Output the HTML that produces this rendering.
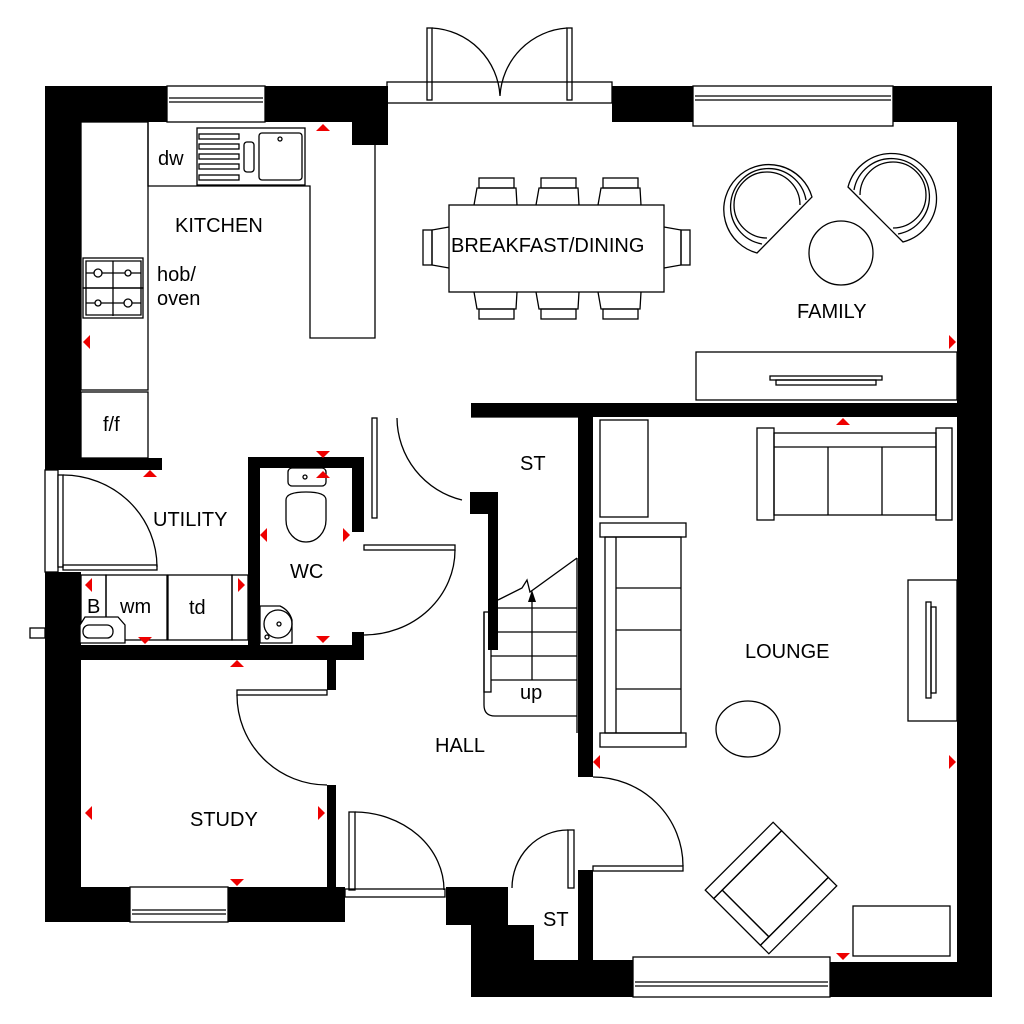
<!DOCTYPE html>
<html><head><meta charset="utf-8"><style>
html,body{margin:0;padding:0;background:#fff;}
svg{display:block}
text{font-family:"Liberation Sans",sans-serif;fill:#000;}
</style></head><body>
<svg width="1024" height="1024" viewBox="0 0 1024 1024" xmlns="http://www.w3.org/2000/svg">
<rect width="1024" height="1024" fill="#fff"/>
<g fill="#000">
<rect x="45" y="86" width="36" height="384"/>
<rect x="45" y="86" width="122" height="36"/>
<rect x="265" y="86" width="123" height="36"/>
<rect x="352" y="86" width="36" height="59"/>
<rect x="612" y="86" width="81" height="36"/>
<rect x="893" y="86" width="99" height="36"/>
<rect x="957" y="86" width="35" height="911"/>
<rect x="81" y="458" width="81" height="12"/>
<rect x="45" y="572" width="36" height="350"/>
<rect x="45" y="887" width="85" height="35"/>
<rect x="228" y="887" width="117" height="35"/>
<rect x="446" y="887" width="60" height="38"/>
<rect x="471" y="925" width="63" height="72"/>
<rect x="506" y="887" width="2" height="38"/>
<rect x="534" y="960" width="99" height="37"/>
<rect x="578" y="870" width="15" height="90"/>
<rect x="830" y="962" width="162" height="35"/>
<rect x="471" y="403" width="486" height="14"/>
<rect x="578" y="417" width="15" height="360"/>
<rect x="248" y="457" width="116" height="11"/>
<rect x="248" y="457" width="12" height="203"/>
<rect x="352" y="457" width="12" height="75"/>
<rect x="352" y="632" width="12" height="28"/>
<rect x="81" y="645" width="283" height="15"/>
<rect x="327" y="660" width="9" height="30"/>
<rect x="327" y="785" width="9" height="105"/>
<rect x="470" y="492" width="28" height="22"/>
<rect x="488" y="510" width="10" height="140"/>
</g>
<g fill="none" stroke="#000" stroke-width="1.3">
<rect x="167" y="86" width="98" height="36" fill="#fff"/>
<line x1="169" y1="98" x2="263" y2="98"/><line x1="169" y1="102" x2="263" y2="102"/>
<rect x="693" y="86" width="200" height="40" fill="#fff"/>
<line x1="695" y1="96" x2="891" y2="96"/><line x1="695" y1="100" x2="891" y2="100"/>
<rect x="130" y="887" width="98" height="35" fill="#fff"/>
<line x1="132" y1="910" x2="226" y2="910"/><line x1="132" y1="914" x2="226" y2="914"/>
<rect x="633" y="957" width="197" height="40" fill="#fff"/>
<line x1="635" y1="982" x2="828" y2="982"/><line x1="635" y1="986" x2="828" y2="986"/>
<rect x="45" y="470" width="13" height="102" fill="#fff"/>
<rect x="30" y="628" width="15" height="10"/>
<rect x="387" y="82" width="225" height="21"/>
<rect x="427" y="28" width="5" height="72"/><rect x="567" y="28" width="5" height="72"/>
<path d="M432 28 A72 72 0 0 1 500 96 A72 72 0 0 1 567 28"/>
<rect x="81" y="122" width="67" height="268"/>
<path d="M148 122 V186 H310 V338 H375 V145"/>
<rect x="81" y="392" width="67" height="66"/>
<rect x="197" y="128" width="108" height="57"/>
<rect x="199" y="134" width="40" height="5"/><rect x="199" y="144" width="40" height="5"/><rect x="199" y="154" width="40" height="5"/><rect x="199" y="164" width="40" height="5"/><rect x="199" y="175" width="40" height="5"/>
<rect x="244" y="142" width="10" height="30" rx="3"/>
<rect x="259" y="133" width="43" height="47" rx="3"/>
<circle cx="280" cy="139" r="2"/>
<rect x="83" y="258" width="60" height="30"/><rect x="83" y="288" width="60" height="30"/>
<path d="M86 273 H141 M86 303 H141 M113 261 V316 M86 261 H141 V315 H86Z"/>
<circle cx="98" cy="273" r="4" fill="#fff"/><circle cx="128" cy="273" r="3" fill="#fff"/><circle cx="98" cy="303" r="3" fill="#fff"/><circle cx="128" cy="303" r="4" fill="#fff"/>
<rect x="449" y="205" width="215" height="87"/>
<g id="ch"><path d="M474 205 L477 188 H516 L517 205"/><rect x="479" y="178" width="35" height="10"/></g>
<use href="#ch" x="62"/><use href="#ch" x="124"/>
<use href="#ch" transform="matrix(1 0 0 -1 0 497)"/><use href="#ch" transform="matrix(1 0 0 -1 62 497)"/><use href="#ch" transform="matrix(1 0 0 -1 124 497)"/>
<path d="M449 227 L432 230 V265 L449 268"/><rect x="423" y="230" width="9" height="35"/>
<path d="M664 227 L681 230 V265 L664 268"/><rect x="681" y="230" width="9" height="35"/>
<!-- family armchairs -->
<path d="M757 253 A45 45 0 1 1 812 197 Z"/>
<path d="M762 244 A38 38 0 1 1 806 200"/>
<path d="M767 238 A33 33 0 1 1 800 205"/>
<path d="M903 242 A45 45 0 1 0 848 187 Z"/>
<path d="M898 234 A38 38 0 1 0 854 190"/>
<path d="M893 228 A33 33 0 1 0 860 195"/>
<circle cx="841" cy="253" r="32"/>
<rect x="696" y="352" width="261" height="48"/>
<rect x="770" y="376" width="112" height="4"/><rect x="776" y="380" width="100" height="5"/>
<rect x="600" y="420" width="48" height="97"/>
<rect x="600" y="523" width="86" height="14"/><rect x="600" y="733" width="86" height="14"/>
<rect x="605" y="537" width="76" height="196"/><line x1="616" y1="537" x2="616" y2="733"/>
<line x1="616" y1="588" x2="681" y2="588"/><line x1="616" y1="630" x2="681" y2="630"/><line x1="616" y1="689" x2="681" y2="689"/>
<rect x="757" y="428" width="17" height="92"/><rect x="936" y="428" width="16" height="92"/>
<rect x="774" y="433" width="162" height="82"/><line x1="774" y1="447" x2="936" y2="447"/>
<line x1="828" y1="447" x2="828" y2="515"/><line x1="882" y1="447" x2="882" y2="515"/>
<ellipse cx="748" cy="729" rx="32" ry="28"/>
<rect x="908" y="580" width="49" height="141"/>
<rect x="926" y="602" width="5" height="96"/><rect x="931" y="607" width="5" height="86"/>
<g transform="translate(771 888) rotate(45)">
<rect x="-45" y="-48" width="12" height="96"/><rect x="33" y="-48" width="12" height="96"/>
<rect x="-33" y="36" width="66" height="12"/><rect x="-33" y="-48" width="66" height="84"/>
</g>
<rect x="853" y="906" width="97" height="50"/>
<rect x="81" y="575" width="25" height="65"/><rect x="106" y="575" width="61" height="65"/><rect x="168" y="575" width="64" height="65"/>
<rect x="232" y="575" width="16" height="65"/>
<path d="M80 625 L85 617 H118 L125 625 V643 H80Z" fill="#fff"/>
<rect x="83" y="625" width="30" height="13" rx="6"/>
<rect x="288" y="468" width="38" height="18" rx="4"/>
<path d="M286 500 Q286 492 306 492 Q326 492 326 500 V520 A20 22 0 0 1 286 520Z"/>
<circle cx="305" cy="477" r="2"/>
<path d="M260 606 H280 A22 22 0 0 1 292 620 V643 H260Z"/>
<circle cx="278" cy="624" r="14"/><circle cx="279" cy="624" r="2"/><circle cx="267" cy="637" r="2"/>
<rect x="58" y="475" width="5" height="92" fill="#fff"/>
<rect x="63" y="565" width="94" height="5"/>
<path d="M63 475 A94 92 0 0 1 157 567"/>
<rect x="364" y="545" width="91" height="5"/>
<path d="M455 550 A91 85 0 0 1 364 635"/>
<rect x="372" y="418" width="5" height="100"/>
<path d="M397 418 A85 85 0 0 0 462 500"/>
<rect x="237" y="690" width="90" height="5"/>
<path d="M237 695 A90 90 0 0 0 327 785"/>
<rect x="349" y="812" width="6" height="78"/><rect x="345" y="889" width="100" height="8"/>
<path d="M355 812 A90 78 0 0 1 444 890"/>
<rect x="568" y="830" width="6" height="58"/>
<path d="M568 830 A56 58 0 0 0 512 888"/>
<rect x="593" y="866" width="90" height="5"/>
<path d="M593 777 A90 89 0 0 1 683 866"/>
<path d="M484 612 V705 Q484 716 495 716 H577"/>
<rect x="484" y="612" width="7" height="80"/>
<path d="M498 600 L522 588 L527 580 L530 592 L577 558 M498 608 H577 M491 632 H577 M491 656 H577 M491 680 H577 M577 558 V733"/>
<line x1="532" y1="680" x2="532" y2="600"/>
<line x1="471" y1="417" x2="578" y2="417"/>
</g>
<path d="M532 590 L528 602 H536Z" fill="#000"/>
<g fill="#e00">
<path d="M316 131 L323 124 L330 131Z"/>
<path d="M90 335 L83 342 L90 349Z"/>
<path d="M143 477 L150 470 L157 477Z"/>
<path d="M316 451 L323 458 L330 451Z"/><path d="M316 478 L323 471 L330 478Z"/>
<path d="M267 528 L260 535 L267 542Z"/><path d="M343 528 L350 535 L343 542Z"/>
<path d="M92 578 L85 585 L92 592Z"/><path d="M238 578 L245 585 L238 592Z"/>
<path d="M138 637 L145 644 L152 637Z"/><path d="M316 636 L323 643 L330 636Z"/>
<path d="M230 667 L237 660 L244 667Z"/>
<path d="M92 806 L85 813 L92 820Z"/><path d="M318 806 L325 813 L318 820Z"/>
<path d="M230 879 L237 886 L244 879Z"/>
<path d="M949 335 L956 342 L949 349Z"/>
<path d="M836 425 L843 418 L850 425Z"/>
<path d="M600 755 L593 762 L600 769Z"/><path d="M949 755 L956 762 L949 769Z"/>
<path d="M836 953 L843 960 L850 953Z"/>
</g>
<g font-size="20">
<text x="158" y="165">dw</text>
<text x="175" y="232">KITCHEN</text>
<text x="157" y="281">hob/</text><text x="157" y="305">oven</text>
<text x="103" y="431">f/f</text>
<text x="451" y="252">BREAKFAST/DINING</text>
<text x="797" y="318">FAMILY</text>
<text x="520" y="470">ST</text>
<text x="153" y="526">UTILITY</text>
<text x="290" y="578">WC</text>
<text x="87" y="613">B</text><text x="120" y="613">wm</text><text x="189" y="614">td</text>
<text x="520" y="699">up</text>
<text x="745" y="658">LOUNGE</text>
<text x="435" y="752">HALL</text>
<text x="190" y="826">STUDY</text>
<text x="543" y="926">ST</text>
</g>
</svg>
</body></html>
